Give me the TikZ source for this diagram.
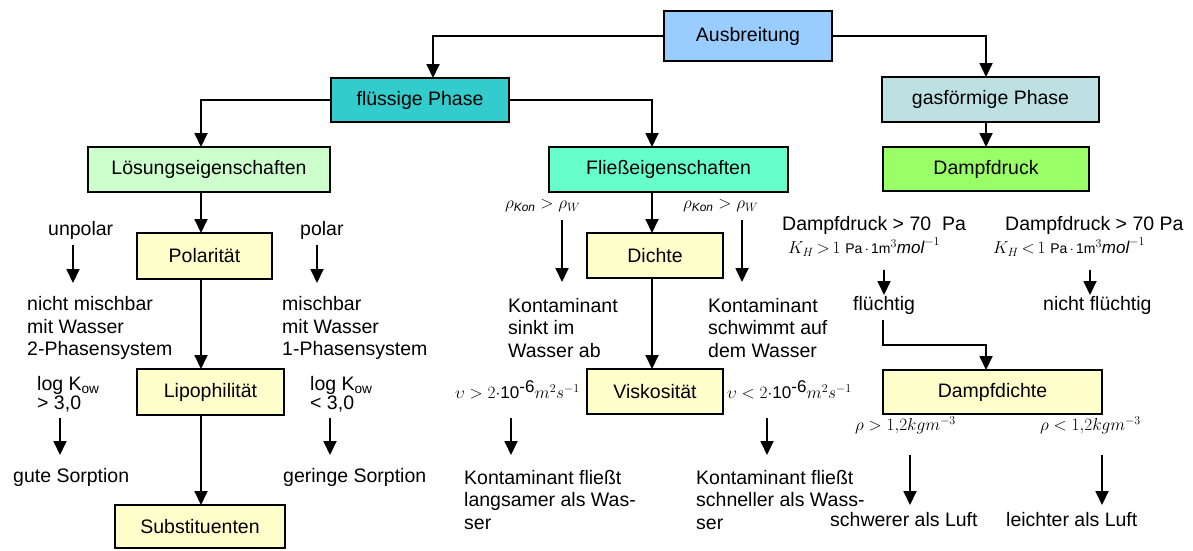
\documentclass[tikz,border=0pt]{standalone}
\usepackage{fontspec}
\setmainfont{Liberation Sans}
\usetikzlibrary{arrows.meta}
\definecolor{cAus}{HTML}{99CCFF}
\definecolor{cFl}{HTML}{33CCCC}
\definecolor{cGas}{HTML}{BDE0E3}
\definecolor{cLoes}{HTML}{CCFFCC}
\definecolor{cFliess}{HTML}{66FFCC}
\definecolor{cDampf}{HTML}{99FF66}
\definecolor{cYel}{HTML}{FFFFCC}
\begin{document}
\begin{tikzpicture}[x=1pt,y=-1pt,
  bx/.style={draw=black, line width=2.2pt, inner sep=0pt, outer sep=0pt, font=\fontsize{19.5}{22}\selectfont},
  txt/.style={inner sep=0pt, font=\fontsize{19.5}{22.5}\selectfont, align=left, anchor=west},
  mth/.style={inner sep=0pt, font=\fontsize{17}{19}\selectfont, anchor=west},
  arr/.style={line width=1.8pt, -{Triangle[length=14pt,width=13pt]}}]
\useasboundingbox (0,0) rectangle (1193,550);
% boxes
\node[bx, fill=cAus, minimum width=168, minimum height=50] (aus) at (748,36) {Ausbreitung};
\node[bx, fill=cFl, minimum width=178, minimum height=44] (fl) at (420,100) {flüssige Phase};
\node[bx, fill=cGas, minimum width=217, minimum height=45] (gas) at (990.5,99.5) {gasförmige Phase};
\node[bx, fill=cLoes, minimum width=242, minimum height=45] (loes) at (209,169.5) {Lösungseigenschaften};
\node[bx, fill=cFliess, minimum width=239, minimum height=45] (fliess) at (668.5,169.5) {Fließeigenschaften};
\node[bx, fill=cDampf, minimum width=206, minimum height=44] (dampf) at (986,169) {Dampfdruck};
\node[bx, fill=cYel, minimum width=135, minimum height=46] (pol) at (204.5,256) {Polarität};
\node[bx, fill=cYel, minimum width=147, minimum height=46] (lipo) at (210.5,392) {Lipophilität};
\node[bx, fill=cYel, minimum width=170, minimum height=43] (subst) at (200,526.5) {Substituenten};
\node[bx, fill=cYel, minimum width=136, minimum height=45] (dichte) at (655,255.5) {Dichte};
\node[bx, fill=cYel, minimum width=136, minimum height=45] (visk) at (655,391.5) {Viskosität};
\node[bx, fill=cYel, minimum width=219, minimum height=44] (ddichte) at (992.5,392) {Dampfdichte};
% columns
\coordinate (c1) at (201,0);
\coordinate (cfl) at (433,0);
\coordinate (cfliess) at (652,0);
\coordinate (cgas) at (986,0);
% tree connectors
\draw[arr] (aus.west) -| (cfl |- fl.north);
\draw[arr] (aus.east) -| (cgas |- gas.north);
\draw[arr] (fl.west) -| (c1 |- loes.north);
\draw[arr] (fl.east) -| (cfliess |- fliess.north);
\draw[arr] (gas.south -| cgas) -- (dampf.north -| cgas);
\draw[arr] (loes.south -| c1) -- (pol.north -| c1);
\draw[arr] (pol.south -| c1) -- (lipo.north -| c1);
\draw[arr] (lipo.south -| c1) -- (subst.north -| c1);
\draw[arr] (fliess.south -| cfliess) -- (dichte.north -| cfliess);
\draw[arr] (dichte.south -| cfliess) -- (visk.north -| cfliess);
% left texts
\node[txt] (unp) at (48,230) {unpolar};
\node[txt] (polt) at (300,230) {polar};
\node[txt] (nm) at (27,328) {nicht mischbar\\mit Wasser\\2-Phasensystem};
\node[txt] (mb) at (282,328) {mischbar\\mit Wasser\\1-Phasensystem};
\node[txt, font=\fontsize{19.5}{19}\selectfont] (lk1) at (37,394) {log K\textsubscript{ow}\\> 3,0};
\node[txt, font=\fontsize{19.5}{19}\selectfont] (lk2) at (310,394) {log K\textsubscript{ow}\\< 3,0};
\node[txt] (gs) at (13,477) {gute Sorption};
\node[txt] (gr) at (283,477) {geringe Sorption};
\coordinate (a1s) at (73,245); \coordinate (a1e) at (73,283);
\coordinate (a2s) at (317,245); \coordinate (a2e) at (317,283);
\coordinate (a3s) at (60,418); \coordinate (a3e) at (60,455);
\coordinate (a4s) at (330,418); \coordinate (a4e) at (330,455);
\draw[arr] (a1s) -- (a1e);
\draw[arr] (a2s) -- (a2e);
\draw[arr] (a3s) -- (a3e);
\draw[arr] (a4s) -- (a4e);
% middle texts
\node[mth] (r1) at (505,206) {$\rho_{\mathit{Kon}} > \rho_W$};
\node[mth] (r2) at (683,206) {$\rho_{\mathit{Kon}} > \rho_W$};
\coordinate (b1s) at (562,220); \coordinate (b1e) at (562,282);
\coordinate (b2s) at (742,220); \coordinate (b2e) at (742,282);
\draw[arr] (b1s) -- (b1e);
\draw[arr] (b2s) -- (b2e);
\node[txt] (ks) at (508,328) {Kontaminant\\sinkt im\\Wasser ab};
\node[txt] (kw) at (708,328) {Kontaminant\\schwimmt auf\\dem Wasser};
\node[mth] (n1) at (455,390) {$\upsilon > 2\cdot$10$^{\mbox{-6}}m^2s^{-1}$};
\node[mth] (n2) at (727,390) {$\upsilon < 2\cdot$10$^{\mbox{-6}}m^2s^{-1}$};
\coordinate (b3s) at (511,418); \coordinate (b3e) at (511,455);
\coordinate (b4s) at (767,418); \coordinate (b4e) at (767,455);
\draw[arr] (b3s) -- (b3e);
\draw[arr] (b4s) -- (b4e);
\node[txt] (kl) at (464,500) {Kontaminant fließt\\langsamer als Was-\\ser};
\node[txt] (kr) at (696,500) {Kontaminant fließt\\schneller als Wass-\\ser};
% right texts
\node[txt] (dd1) at (782,225) {Dampfdruck > 70~~Pa};
\node[txt] (dd2) at (1005,225) {Dampfdruck > 70 Pa};
\node[mth] (kh1) at (788,247) {$K_{H}\,{>}\,1$ {\fontsize{14}{15}\selectfont Pa\,$\cdot$\,1m}$^3\mathit{mol}^{-1}$};
\node[mth] (kh2) at (993,247) {$K_{H}\,{<}\,1$ {\fontsize{14}{15}\selectfont Pa\,$\cdot$\,1m}$^3\mathit{mol}^{-1}$};
\coordinate (d1s) at (884,270); \coordinate (d1e) at (884,295);
\coordinate (d2s) at (1090,270); \coordinate (d2e) at (1090,295);
\draw[arr] (d1s) -- (d1e);
\draw[arr] (d2s) -- (d2e);
\node[txt] (flt) at (853,305) {flüchtig};
\node[txt] (nfl) at (1043,305) {nicht flüchtig};
\coordinate (fk) at (883,320);
\coordinate (fb) at (883,345);
\draw[arr] (fk) -- (fb) -| (cgas |- ddichte.north);
\node[mth] (rh1) at (855,425) {$\rho > 1{,}2 kgm^{-3}$};
\node[mth] (rh2) at (1040,425) {$\rho < 1{,}2 kgm^{-3}$};
\coordinate (e1s) at (910,455); \coordinate (e1e) at (910,505);
\coordinate (e2s) at (1102,455); \coordinate (e2e) at (1102,505);
\draw[arr] (e1s) -- (e1e);
\draw[arr] (e2s) -- (e2e);
\node[txt] (sw) at (830,520) {schwerer als Luft};
\node[txt] (le) at (1006,520) {leichter als Luft};
\end{tikzpicture}
\end{document}
